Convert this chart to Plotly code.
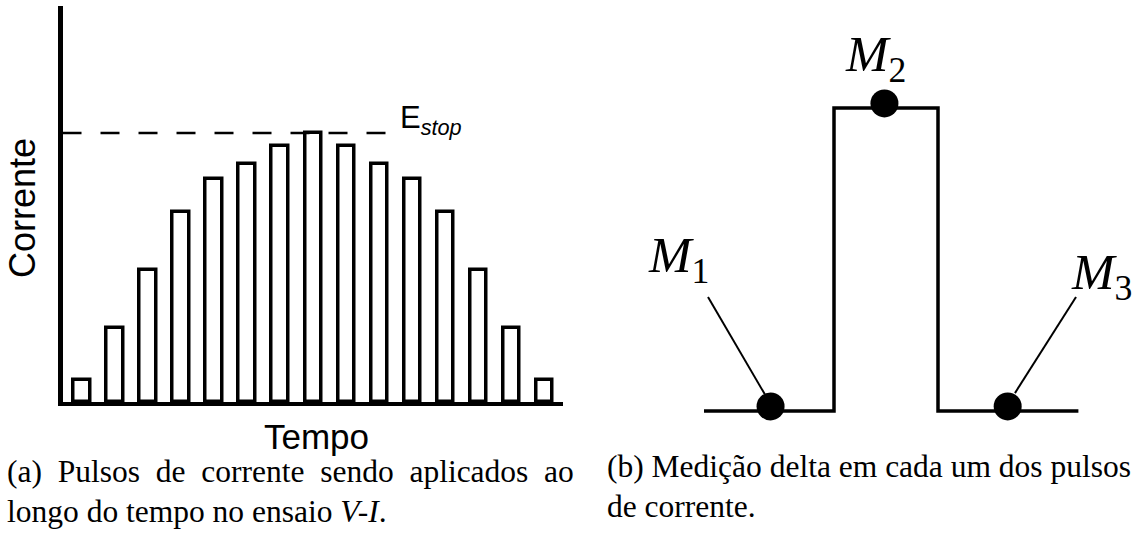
import plotly.graph_objects as go

W, H = 1139, 544

# ---------------- data ----------------
# (a) current pulses
pulse_idx = list(range(1, 16))
pulse_amp = [0.8, 2.75, 4.9, 7.05, 8.3, 8.85, 9.5, 10.0, 9.5, 8.85, 8.3, 7.05, 4.9, 2.75, 0.8]
estop_level = 10.0
estop_span = [0.41, 10.56]

# (b) delta measurement
pulse_t = [0.0, 2.5, 4.5, 7.2]
pulse_lvl = [0.0, 1.0, 0.0, 0.0]
meas_t = [1.28, 3.47, 5.84]
meas_lvl = [0.015, 1.015, 0.015]
meas_labels = ["M", "M", "M"]
meas_sub = ["1", "2", "3"]
lead1_t = [0.077, 1.17]
lead1_lvl = [0.376, 0.055]
lead3_t = [7.154, 5.98]
lead3_lvl = [0.376, 0.059]

def px(x):
    return x / W

def py(y):
    return 1 - y / H

fig = go.Figure()

fig.add_trace(go.Bar(
    x=pulse_idx, y=pulse_amp, width=0.5,
    marker=dict(color="white", line=dict(color="black", width=3.5)),
    xaxis="x", yaxis="y", showlegend=False,
))
fig.add_trace(go.Scatter(
    x=estop_span, y=[estop_level, estop_level], mode="lines",
    line=dict(color="black", width=2.5, dash="19px,19px"),
    xaxis="x", yaxis="y", showlegend=False,
))

fig.add_trace(go.Scatter(
    x=pulse_t, y=pulse_lvl, mode="lines", line_shape="hv",
    line=dict(color="black", width=3.5),
    xaxis="x2", yaxis="y2", showlegend=False,
))
fig.add_trace(go.Scatter(
    x=lead1_t, y=lead1_lvl, mode="lines", line=dict(color="black", width=2),
    xaxis="x2", yaxis="y2", showlegend=False,
))
fig.add_trace(go.Scatter(
    x=lead3_t, y=lead3_lvl, mode="lines", line=dict(color="black", width=2),
    xaxis="x2", yaxis="y2", showlegend=False,
))
fig.add_trace(go.Scatter(
    x=meas_t, y=meas_lvl, mode="markers",
    marker=dict(color="black", size=28),
    xaxis="x2", yaxis="y2", showlegend=False,
))

# left axes: plot area px left=62.5 right=563 top=6 bottom=402
x0p, x1p = 62.5, 563.0
y0p, y1p = 6.0, 402.0
bar0, bar_step = 82.0, 33.04
xr = [1 + (x0p - bar0) / bar_step, 1 + (x1p - bar0) / bar_step]
ppu = (402 - 133) / estop_level
yr = [0, (y1p - y0p) / ppu]

# right axes
t0px, tppu = 704.0, 52.0
l0px, lppu = 411.0, 303.0
rx0, rx1 = 640.0, 1139.0

fig.update_layout(
    width=W, height=H,
    margin=dict(l=0, r=0, t=0, b=0),
    paper_bgcolor="white", plot_bgcolor="rgba(0,0,0,0)",
    bargap=0,
    xaxis=dict(domain=[px(x0p), px(x1p)], range=xr, showline=True, linecolor="black",
               linewidth=4, showgrid=False, zeroline=False, showticklabels=False, ticks=""),
    yaxis=dict(domain=[py(y1p), py(y0p)], range=yr, showline=True, linecolor="black",
               linewidth=5, showgrid=False, zeroline=False, showticklabels=False, ticks=""),
    xaxis2=dict(domain=[px(rx0), px(rx1)], range=[(rx0 - t0px) / tppu, (rx1 - t0px) / tppu],
                visible=False, anchor="y2"),
    yaxis2=dict(domain=[0, 1], range=[(l0px - H) / lppu, l0px / lppu],
                visible=False, anchor="x2"),
)

ann = []
sans = "Liberation Sans, Arial, sans-serif"
serif = "Liberation Serif, Times New Roman, serif"
ann.append(dict(text="Corrente", x=px(22), y=py(208), xref="paper", yref="paper",
                textangle=-90, showarrow=False, font=dict(family=sans, size=36, color="black"),
                xanchor="center", yanchor="middle"))
ann.append(dict(text="Tempo", x=px(316), y=py(436), xref="paper", yref="paper",
                showarrow=False, font=dict(family=sans, size=35, color="black"),
                xanchor="center", yanchor="middle"))
ann.append(dict(text="E<sub><i>stop</i></sub>", x=px(398), y=py(120), xref="paper", yref="paper",
                showarrow=False, font=dict(family=sans, size=31, color="black"),
                xanchor="left", yanchor="middle"))

label_px = [(678, 259), (875, 58), (1101, 276)]
for (lx, ly), m, s in zip(label_px, meas_labels, meas_sub):
    ann.append(dict(text=f"<i>{m}</i><sub>{s}</sub>", x=px(lx), y=py(ly), xref="paper", yref="paper",
                    showarrow=False, font=dict(family=serif, size=51, color="black"),
                    xanchor="center", yanchor="middle"))

gap = "\u2002"
cap_font = dict(family=serif, size=31.5, color="black")
line_a1 = gap.join(["(a)", "Pulsos", "de", "corrente", "sendo", "aplicados", "ao"])
ann.append(dict(text=line_a1, x=px(5), y=py(471),
                xref="paper", yref="paper", showarrow=False, font=cap_font,
                xanchor="left", yanchor="middle"))
ann.append(dict(text="longo do tempo no ensaio <i>V-I</i>.", x=px(5), y=py(511),
                xref="paper", yref="paper", showarrow=False, font=cap_font,
                xanchor="left", yanchor="middle"))
ann.append(dict(text="(b) Medição delta em cada um dos pulsos", x=px(605), y=py(466),
                xref="paper", yref="paper", showarrow=False, font=cap_font,
                xanchor="left", yanchor="middle"))
ann.append(dict(text="de corrente.", x=px(605), y=py(506),
                xref="paper", yref="paper", showarrow=False, font=cap_font,
                xanchor="left", yanchor="middle"))
fig.update_layout(annotations=ann)

fig.write_html("out.html", config={"displayModeBar": False},
               post_script="document.body.style.margin='0px';document.body.style.overflow='hidden';")
